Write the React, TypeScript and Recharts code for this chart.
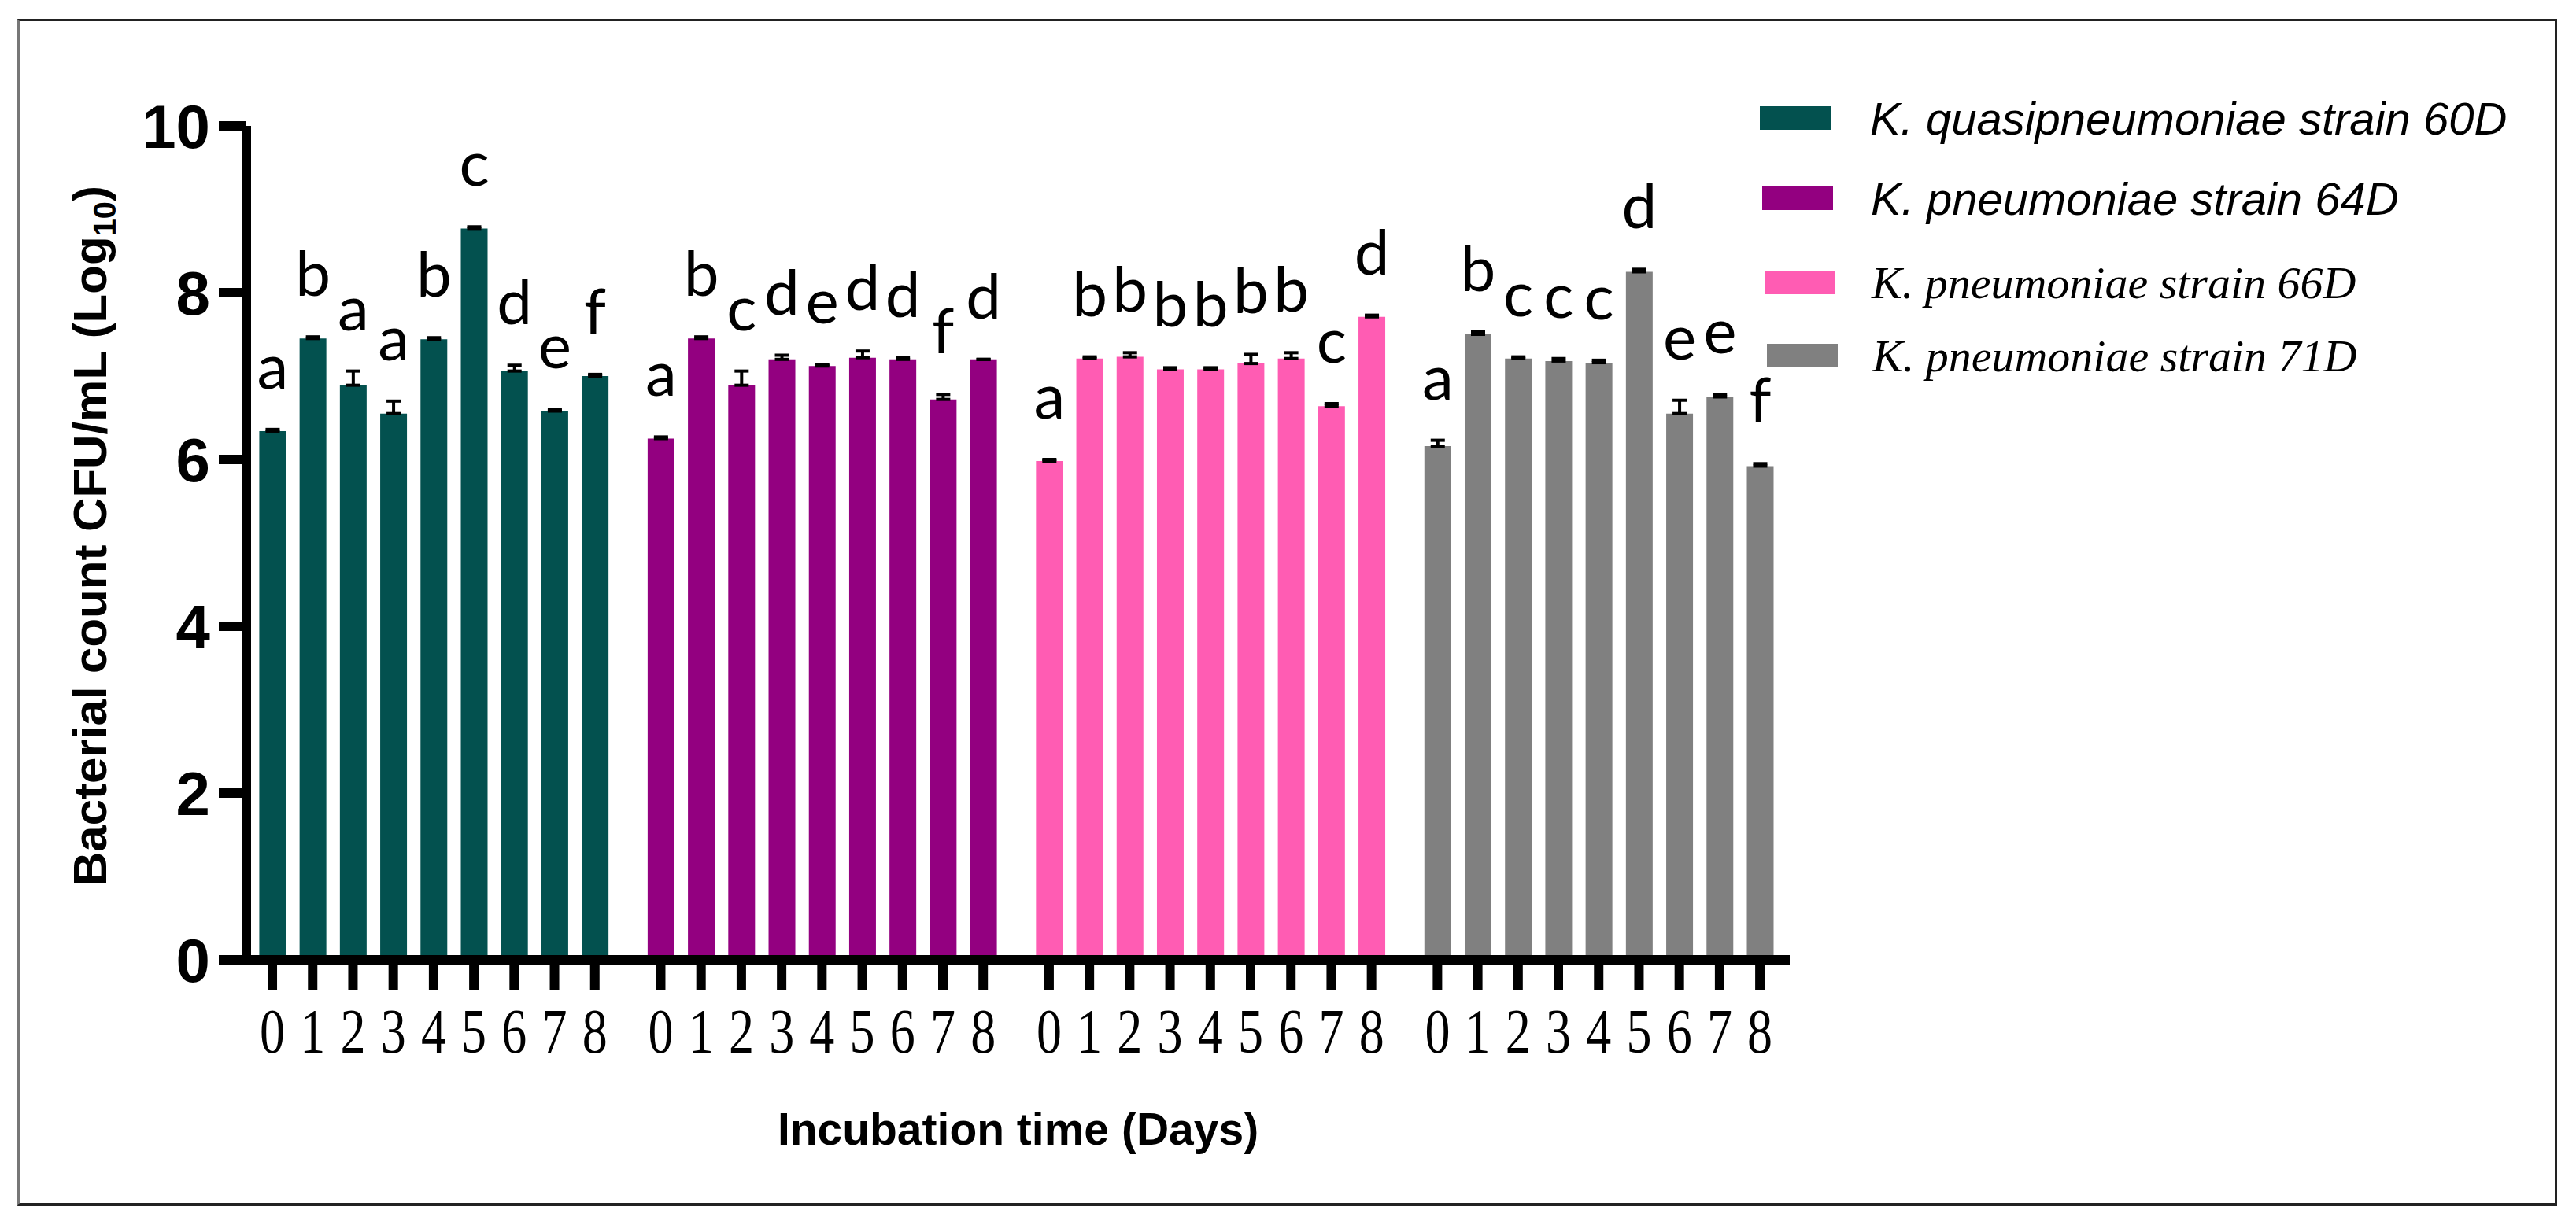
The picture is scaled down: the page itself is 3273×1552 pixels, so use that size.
import React from 'react'
import {
	Bar,
	BarChart,
	Cell,
	ErrorBar,
	Label,
	LabelList,
	Legend,
	XAxis,
	YAxis,
} from 'recharts'

// incubation days shown under every group
const days = [0, 1, 2, 3, 4, 5, 6, 7, 8]

const strains = [
	'K. quasipneumoniae strain 60D',
	'K. pneumoniae strain 64D',
	'K. pneumoniae strain 66D',
	'K. pneumoniae strain 71D',
]

// log10 CFU/mL per day
const strain60D = [6.34, 7.45, 6.89, 6.55, 7.44, 8.77, 7.06, 6.58, 7.0]
const strain64D = [6.25, 7.45, 6.89, 7.2, 7.12, 7.22, 7.2, 6.72, 7.2]
const strain66D = [5.98, 7.21, 7.23, 7.08, 7.08, 7.15, 7.21, 6.64, 7.71]
const strain71D = [6.16, 7.5, 7.21, 7.18, 7.16, 8.25, 6.55, 6.75, 5.92]

// upper error (SD)
const err60D = [0.02, 0.02, 0.17, 0.15, 0.02, 0.02, 0.07, 0.02, 0.02]
const err64D = [0.02, 0.02, 0.17, 0.05, 0.02, 0.08, 0.02, 0.06, 0.0]
const err66D = [0.02, 0.02, 0.05, 0.02, 0.02, 0.11, 0.07, 0.03, 0.02]
const err71D = [0.07, 0.03, 0.02, 0.03, 0.03, 0.03, 0.16, 0.03, 0.03]

// significance letters
const letters60D = ['a', 'b', 'a', 'a', 'b', 'c', 'd', 'e', 'f']
const letters64D = ['a', 'b', 'c', 'd', 'e', 'd', 'd', 'f', 'd']
const letters66D = ['a', 'b', 'b', 'b', 'b', 'b', 'b', 'c', 'd']
const letters71D = ['a', 'b', 'c', 'c', 'c', 'd', 'e', 'e', 'f']

const yTicks = [0, 2, 4, 6, 8, 10]

const colors = ['#03514f', '#930080', '#ff5cb3', '#808080']
const legendFonts = [
	"'Liberation Sans', Arial, sans-serif",
	"'Liberation Sans', Arial, sans-serif",
	"'Liberation Serif', 'Times New Roman', serif",
	"'Liberation Serif', 'Times New Roman', serif",
]
const legendRowCenters = [50, 152, 259, 352]

const W = 3273
const H = 1552
const PLOT_LEFT = 313
const PLOT_RIGHT = 2274
const PLOT_TOP = 160
const PLOT_BOTTOM = 1220
const Y_AXIS_W = 250
const X_AXIS_H = 100
const Y_MAX = 10
const PX_PER_UNIT = (PLOT_BOTTOM - PLOT_TOP) / Y_MAX
const GROUP_STEP = 9.635

const seriesValues = [strain60D, strain64D, strain66D, strain71D]
const seriesErrors = [err60D, err64D, err66D, err71D]
const seriesLetters = [letters60D, letters64D, letters66D, letters71D]

const table = seriesValues.flatMap((vals, g) =>
	days.map((d, i) => ({
		pos: g * GROUP_STEP + d,
		day: d,
		group: g,
		value: vals[i],
		err: [0, seriesErrors[g][i]],
		letter: seriesLetters[g][i],
	})),
)

function DayTick(props: any) {
	const { x, y, payload } = props
	const row = table.find((r) => r.pos === payload.value)
	return (
		<g transform={`translate(${x},${y})`}>
			<text
				x={0}
				y={0}
				dy={80}
				transform="scale(0.8,1)"
				textAnchor="middle"
				fontFamily="'Liberation Serif', 'Times New Roman', serif"
				fontSize={80}
				fill="#000"
			>
				{row ? row.day : ''}
			</text>
		</g>
	)
}

function LetterLabel(props: any) {
	const vb = props.viewBox || {}
	const x = props.x ?? vb.x
	const y = props.y ?? vb.y
	const width = props.width ?? vb.width
	const row = table[props.index]
	if (!row) return null
	const top = y - row.err[1] * PX_PER_UNIT
	return (
		<text
			x={x + width / 2}
			y={top - 52}
			textAnchor="middle"
			fontFamily="Lato, 'Open Sans', sans-serif"
			fontSize={80}
			fill="#000"
		>
			{row.letter}
		</text>
	)
}

function YTitle(props: any) {
	const vb = props.viewBox
	const cx = vb.x + 72
	const cy = vb.y + vb.height / 2 - 9
	return (
		<text
			transform={`translate(${cx},${cy}) rotate(-90)`}
			textAnchor="middle"
			fontFamily="'Liberation Sans', Arial, sans-serif"
			fontWeight={700}
			fontSize={60}
			fill="#000"
		>
			Bacterial count CFU/mL (Log
			<tspan fontSize={40} dy={12}>
				10
			</tspan>
			<tspan dy={-12}>)</tspan>
		</text>
	)
}

function XTitle(props: any) {
	const vb = props.viewBox
	return (
		<text
			x={vb.x + vb.width / 2}
			y={vb.y + 235}
			textAnchor="middle"
			fontFamily="'Liberation Sans', Arial, sans-serif"
			fontWeight={700}
			fontSize={57}
			fill="#000"
		>
			Incubation time (Days)
		</text>
	)
}

function StrainLegend() {
	return (
		<div style={{ position: 'relative', width: 1000, height: 420 }}>
			{strains.map((name, i) => (
				<div
					key={name}
					style={{
						position: 'absolute',
						left: i * 3,
						top: legendRowCenters[i] - 40,
						display: 'flex',
						alignItems: 'center',
						height: 80,
					}}
				>
					<div
						style={{
							width: 90,
							height: 30,
							background: colors[i],
							marginRight: 50 - i * 2,
						}}
					/>
					<span
						style={{
							fontFamily: legendFonts[i],
							fontStyle: 'italic',
							fontSize: 58,
							color: '#000',
							whiteSpace: 'nowrap',
						}}
					>
						{name}
					</span>
				</div>
			))}
		</div>
	)
}

export default function App() {
	const xTicks = table.map((r) => r.pos)
	return (
		<div
			style={{
				position: 'absolute',
				left: 0,
				top: 0,
				width: W,
				height: H,
				background: '#fff',
			}}
		>
			<div
				style={{
					position: 'absolute',
					left: 22,
					top: 24,
					width: 3249 - 22,
					height: 1533 - 24,
					boxSizing: 'border-box',
					borderTop: '3px solid #222',
					borderRight: '3px solid #222',
					borderBottom: '4px solid #222',
					borderLeft: '3px solid #777',
				}}
			/>
			<div style={{ position: 'absolute', left: 0, top: 0 }}>
				<BarChart
					width={W}
					height={H}
					data={table}
					margin={{
						top: PLOT_TOP,
						right: W - PLOT_RIGHT,
						bottom: H - PLOT_BOTTOM - X_AXIS_H,
						left: PLOT_LEFT - Y_AXIS_W,
					}}
				>
					<XAxis
						type="number"
						dataKey="pos"
						domain={[-0.645, 3 * GROUP_STEP + 8 + 0.74]}
						ticks={xTicks}
						interval={0}
						height={X_AXIS_H}
						tick={<DayTick />}
						tickSize={38}
						tickMargin={0}
						axisLine={{ stroke: '#000', strokeWidth: 12 }}
						tickLine={{ stroke: '#000', strokeWidth: 12 }}
					>
						<Label content={XTitle} />
					</XAxis>
					<YAxis
						type="number"
						domain={[0, Y_MAX]}
						ticks={yTicks}
						interval={0}
						width={Y_AXIS_W}
						tickSize={35}
						tickMargin={11}
						tick={{
							fill: '#000',
							fontSize: 78,
							fontWeight: 700,
							fontFamily: "'Liberation Sans', Arial, sans-serif",
						}}
						axisLine={{ stroke: '#000', strokeWidth: 12 }}
						tickLine={{ stroke: '#000', strokeWidth: 12 }}
					>
						<Label content={YTitle} />
					</YAxis>
					<Legend
						layout="vertical"
						align="center"
						verticalAlign="middle"
						content={<StrainLegend />}
						wrapperStyle={{ left: 2236, top: 100, width: 1000 }}
					/>
					<Bar dataKey="value" barSize={34} isAnimationActive={false}>
						{table.map((r, i) => (
							<Cell key={i} fill={colors[r.group]} />
						))}
						<ErrorBar
							dataKey="err"
							direction="y"
							width={9}
							stroke="#000"
							strokeWidth={4}
							isAnimationActive={false}
						/>
						<LabelList dataKey="letter" content={<LetterLabel />} />
					</Bar>
				</BarChart>
			</div>
		</div>
	)
}
